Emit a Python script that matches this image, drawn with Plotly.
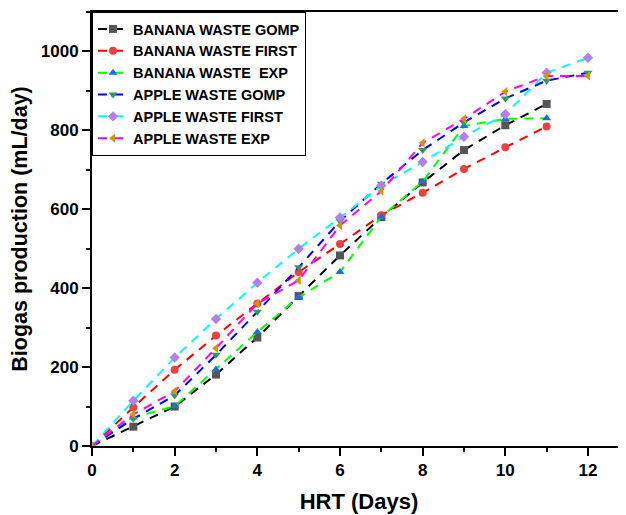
import plotly.graph_objects as go

days12 = [0, 1, 2, 3, 4, 5, 6, 7, 8, 9, 10, 11, 12]
days11 = [0, 1, 2, 3, 4, 5, 6, 7, 8, 9, 10, 11]

banana_gomp = [0, 49, 100, 181, 275, 380, 483, 580, 668, 750, 813, 867]
banana_first = [0, 98, 193, 280, 361, 441, 512, 585, 642, 702, 757, 810]
banana_exp = [0, 72, 101, 194, 289, 377, 441, 581, 670, 811, 829, 831]
apple_gomp = [0, 69, 128, 231, 340, 453, 570, 665, 750, 820, 881, 926, 946]
apple_first = [0, 115, 224, 322, 414, 500, 579, 660, 720, 784, 841, 946, 984]
apple_exp = [0, 80, 139, 248, 361, 420, 559, 646, 768, 829, 898, 938, 938]

series = [
    ("BANANA WASTE GOMP", days11, banana_gomp, "#000000", "#555555", "square"),
    ("BANANA WASTE FIRST", days11, banana_first, "#FF0000", "#EE4040", "circle"),
    ("BANANA WASTE  EXP", days11, banana_exp, "#00FF00", "#1F6FD6", "triangle-up"),
    ("APPLE WASTE GOMP", days12, apple_gomp, "#0000FF", "#2E9A60", "triangle-down"),
    ("APPLE WASTE FIRST", days12, apple_first, "#00FFFF", "#B47FE6", "diamond"),
    ("APPLE WASTE EXP", days12, apple_exp, "#FF00FF", "#CC9900", "triangle-left"),
]

FONT = "Liberation Sans, Arial, sans-serif"
fig = go.Figure()
for name, x, y, lc, mc, sym in series:
    fig.add_trace(go.Scatter(
        x=x, y=y, name=name, mode="lines+markers",
        line=dict(color=lc, width=2, dash="9px,7px"),
        marker=dict(color=mc, symbol=sym, size=8, line=dict(width=0)),
    ))

fig.update_layout(
    width=618, height=507,
    margin=dict(l=84, r=0, t=4, b=69, autoexpand=False),
    paper_bgcolor="white", plot_bgcolor="white",
    font=dict(family=FONT, color="black"),
    showlegend=True,
    legend=dict(
        x=0, y=1, xanchor="left", yanchor="top",
        bgcolor="white", bordercolor="black", borderwidth=1,
        font=dict(family=FONT, size=14.5, color="black", weight="bold"),
        tracegroupgap=0, itemwidth=30,
    ),
    xaxis=dict(
        range=[0, 12.92], showgrid=False, zeroline=False,
        showline=True, linecolor="black", linewidth=2, mirror=True,
        ticks="outside", ticklen=8, tickwidth=2, tickcolor="black",
        tickmode="linear", tick0=0, dtick=2,
        minor=dict(ticks="outside", ticklen=4, tickwidth=2, tickcolor="black", dtick=1, showgrid=False),
        tickfont=dict(family=FONT, size=17, weight="bold"),
        title=dict(text="HRT (Days)", font=dict(family=FONT, size=22, weight="bold"), standoff=14),
        automargin=False,
    ),
    yaxis=dict(
        range=[0, 1100], showgrid=False, zeroline=False,
        showline=True, linecolor="black", linewidth=2, mirror=False,
        ticks="outside", ticklen=8, tickwidth=2, tickcolor="black",
        tickmode="linear", tick0=0, dtick=200,
        minor=dict(ticks="outside", ticklen=4, tickwidth=2, tickcolor="black", dtick=100, showgrid=False),
        tickfont=dict(family=FONT, size=17, weight="bold"),
        title=dict(text="Biogas production (mL/day)", font=dict(family=FONT, size=21.5, weight="bold"), standoff=8),
        automargin=False,
    ),
)

fig.write_html("out.html")
